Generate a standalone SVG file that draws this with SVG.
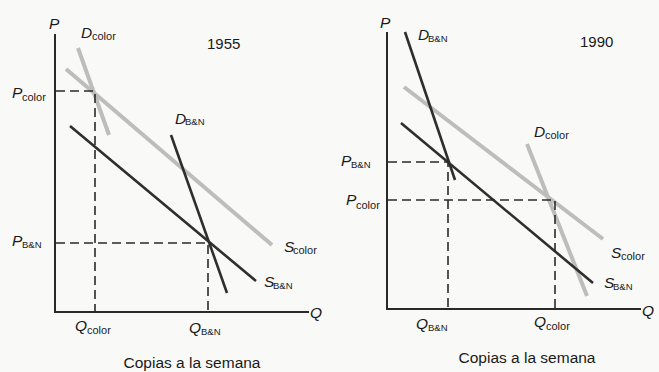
<svg xmlns="http://www.w3.org/2000/svg" width="659" height="372" viewBox="0 0 659 372">
<style>
.bg{fill:#f9f9f7}
.axis{stroke:#2a2a2a;stroke-width:2;fill:none;stroke-linecap:square}
.dark{stroke:#2e2e2e;stroke-width:2.6;fill:none;stroke-linecap:butt}
.gray{stroke:#bdbdbd;stroke-width:4;fill:none;stroke-linecap:butt}
.dash{stroke:#2a2a2a;stroke-width:1.6;fill:none;stroke-dasharray:9 5}
text{font-family:"Liberation Sans",Arial,sans-serif;fill:#1a1a1a}
.m{font-size:15.5px;font-style:italic}
.s{font-size:11px}
.sb{font-size:9.5px}
.yr{font-size:15px}
.cap{font-size:15.5px}
</style>
<rect class="bg" x="0" y="0" width="659" height="372"/>

<g id="panel-1955">
  <g id="axes-1955">
    <polyline class="axis" points="55,35 55,312 308,312"/>
    <text class="m" x="49" y="29">P</text>
    <text class="m" x="310" y="318">Q</text>
    <text class="yr" x="207" y="49">1955</text>
    <text class="cap" x="192" y="368" text-anchor="middle">Copias a la semana</text>
  </g>
  <g id="connectors-1955">
    <line class="gray" x1="66" y1="69" x2="272" y2="245"/>
    <line class="gray" x1="78" y1="48" x2="109" y2="135"/>
    <line class="dark" x1="70" y1="126" x2="256" y2="281"/>
    <line class="dark" x1="171" y1="135" x2="227" y2="293"/>
    <polyline class="dash" points="56,91 95,91 95,311"/>
    <polyline class="dash" points="56,243 208,243 208,311"/>
  </g>
  <g id="label-Dcolor-1955"><text class="m" x="81" y="38">D</text><text class="s" x="92" y="40">color</text></g>
  <g id="label-DBN-1955"><text class="m" x="175" y="124">D</text><text class="sb" x="185" y="125">B&amp;N</text></g>
  <g id="label-Pcolor-1955"><text class="m" x="12" y="98">P</text><text class="s" x="22" y="101">color</text></g>
  <g id="label-PBN-1955"><text class="m" x="12" y="246">P</text><text class="sb" x="22" y="248">B&amp;N</text></g>
  <g id="label-Scolor-1955"><text class="m" x="284" y="252">S</text><text class="s" x="293" y="254">color</text></g>
  <g id="label-SBN-1955"><text class="m" x="264" y="287">S</text><text class="sb" x="273" y="289">B&amp;N</text></g>
  <g id="label-Qcolor-1955"><text class="m" x="75" y="331">Q</text><text class="s" x="87" y="334">color</text></g>
  <g id="label-QBN-1955"><text class="m" x="189" y="333">Q</text><text class="sb" x="201" y="335">B&amp;N</text></g>
</g>

<g id="panel-1990">
  <g id="axes-1990">
    <polyline class="axis" points="387,33 387,309 640,309"/>
    <text class="m" x="380" y="28">P</text>
    <text class="m" x="642" y="316">Q</text>
    <text class="yr" x="580" y="47">1990</text>
    <text class="cap" x="527" y="363" text-anchor="middle">Copias a la semana</text>
  </g>
  <g id="connectors-1990">
    <line class="gray" x1="404" y1="87" x2="603" y2="239"/>
    <line class="gray" x1="527" y1="144" x2="587" y2="296"/>
    <line class="dark" x1="401" y1="123" x2="593" y2="283"/>
    <line class="dark" x1="405" y1="32" x2="455" y2="180"/>
    <polyline class="dash" points="388,162 448,162 448,308"/>
    <polyline class="dash" points="388,200 555,200 555,308"/>
  </g>
  <g id="label-DBN-1990"><text class="m" x="418" y="40">D</text><text class="sb" x="428" y="42">B&amp;N</text></g>
  <g id="label-Dcolor-1990"><text class="m" x="534" y="137">D</text><text class="s" x="545" y="139">color</text></g>
  <g id="label-PBN-1990"><text class="m" x="341" y="166">P</text><text class="sb" x="351" y="168">B&amp;N</text></g>
  <g id="label-Pcolor-1990"><text class="m" x="346" y="205">P</text><text class="s" x="356" y="209">color</text></g>
  <g id="label-Scolor-1990"><text class="m" x="611" y="258">S</text><text class="s" x="621" y="260">color</text></g>
  <g id="label-SBN-1990"><text class="m" x="604" y="288">S</text><text class="sb" x="613" y="290">B&amp;N</text></g>
  <g id="label-QBN-1990"><text class="m" x="416" y="329">Q</text><text class="sb" x="428" y="331">B&amp;N</text></g>
  <g id="label-Qcolor-1990"><text class="m" x="534" y="327">Q</text><text class="s" x="546" y="330">color</text></g>
</g>
</svg>
